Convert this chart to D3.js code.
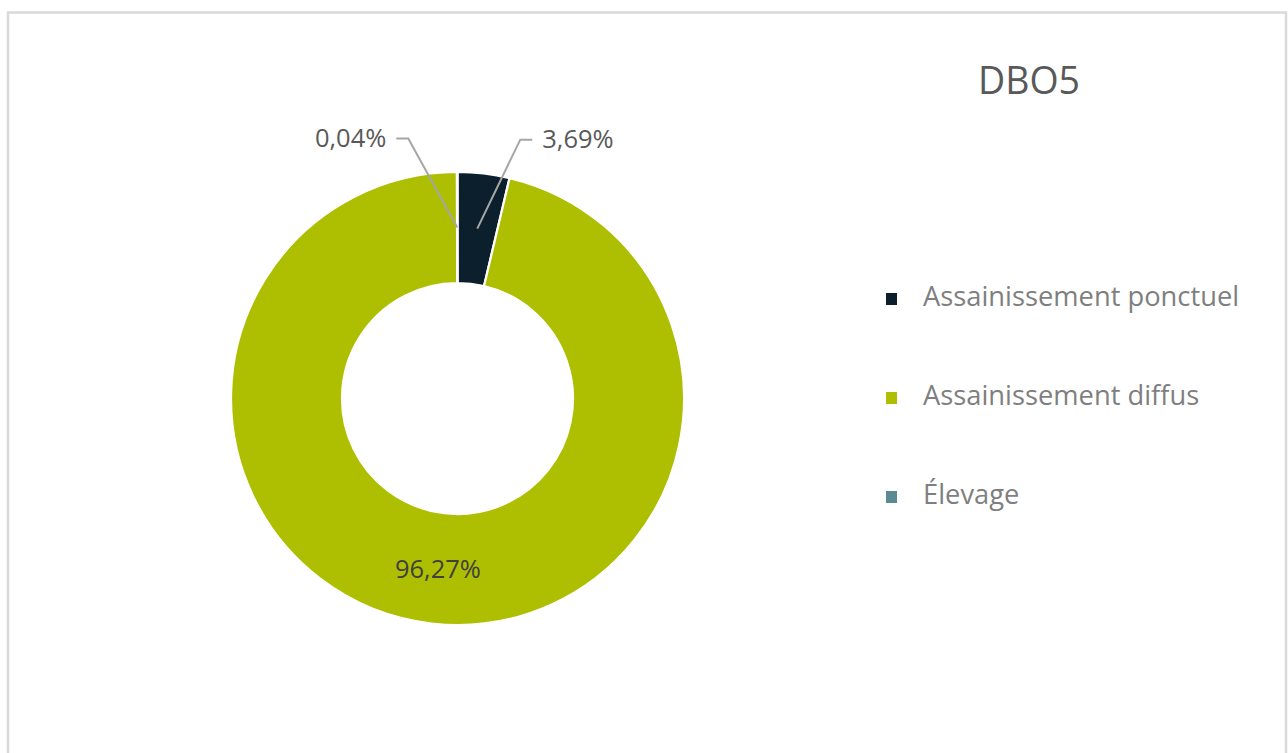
<!DOCTYPE html>
<html>
<head>
<meta charset="utf-8">
<script src="https://cdn.jsdelivr.net/npm/d3@7"></script>
<style>
  html, body { margin: 0; padding: 0; background: #ffffff; }
  svg { display: block; }
  text { font-family: "Open Sans", "Noto Sans", sans-serif; }
</style>
</head>
<body>
<svg id="chart" width="1288" height="753"></svg>
<script>
const title = "DBO5";
const categories = ["Assainissement ponctuel", "Assainissement diffus", "Élevage"];
const values = [3.69, 96.27, 0.04];
const valueLabels = ["3,69%", "96,27%", "0,04%"];
const colors = ["#0c1f2c", "#adbf00", "#5c8a93"];

const svg = d3.select("#chart");

// frame
svg.append("rect")
  .attr("x", 8).attr("y", 12.5)
  .attr("width", 1278).attr("height", 760)
  .attr("fill", "#ffffff")
  .attr("stroke", "#d9d9d9").attr("stroke-width", 2.5);

const cx = 457.5, cy = 398.5, rOuter = 226.5, rInner = 115.5;

const pie = d3.pie().sort(null).value(d => d.v);
const data = categories.map((c, i) => ({ c, v: values[i], label: valueLabels[i] }));
const arcs = pie(data);

const arc = d3.arc().innerRadius(rInner).outerRadius(rOuter);
const color = d3.scaleOrdinal().domain(categories).range(colors);

const g = svg.append("g").attr("transform", `translate(${cx},${cy})`);
g.selectAll("path.slice")
  .data(arcs)
  .join("path")
  .attr("class", "slice")
  .attr("d", arc)
  .attr("fill", d => color(d.data.c))
  .attr("stroke", "#ffffff")
  .attr("stroke-width", 2.2)
  .attr("stroke-linejoin", "miter");

// labels
const labelFont = 25.5;
arcs.forEach(d => {
  const [x0, y0] = arc.centroid(d);
  if (d.data.v > 10) {
    g.append("text")
      .attr("x", x0).attr("y", y0 + 3)
      .attr("text-anchor", "middle")
      .attr("dominant-baseline", "middle")
      .attr("font-size", labelFont)
      .attr("fill", "#404040")
      .text(d.data.label);
  } else {
    const mid = (d.startAngle + d.endAngle) / 2;
    const side = mid < Math.PI ? 1 : -1;
    const ex = side > 0 ? x0 + 43 : x0 - 49;
    const ey = y0 - 89;
    const hx = ex + side * 12;
    g.append("polyline")
      .attr("points", [[x0, y0], [ex, ey], [hx, ey]].map(p => p.join(",")).join(" "))
      .attr("fill", "none")
      .attr("stroke", "#a6a6a6")
      .attr("stroke-width", 2);
    g.append("text")
      .attr("x", hx + side * 10).attr("y", ey + 2)
      .attr("text-anchor", side > 0 ? "start" : "end")
      .attr("dominant-baseline", "middle")
      .attr("font-size", labelFont)
      .attr("fill", "#595959")
      .text(d.data.label);
  }
});

// title
svg.append("text")
  .attr("x", 1029).attr("y", 94)
  .attr("text-anchor", "middle")
  .attr("font-size", 37.5)
  .attr("fill", "#595959")
  .text(title);

// legend
const legendY = d3.scalePoint().domain(categories).range([299, 497]);
const items = svg.append("g").selectAll("g.item").data(categories).join("g")
  .attr("class", "item")
  .attr("transform", c => `translate(886,${legendY(c)})`);
items.append("rect")
  .attr("x", 0).attr("y", -6)
  .attr("width", 11).attr("height", 12)
  .attr("fill", c => color(c));
items.append("text")
  .attr("x", 37).attr("y", 0)
  .attr("dominant-baseline", "middle")
  .attr("font-size", 27.3)
  .attr("fill", "#7f7f7f")
  .text(c => c);
</script>
</body>
</html>
